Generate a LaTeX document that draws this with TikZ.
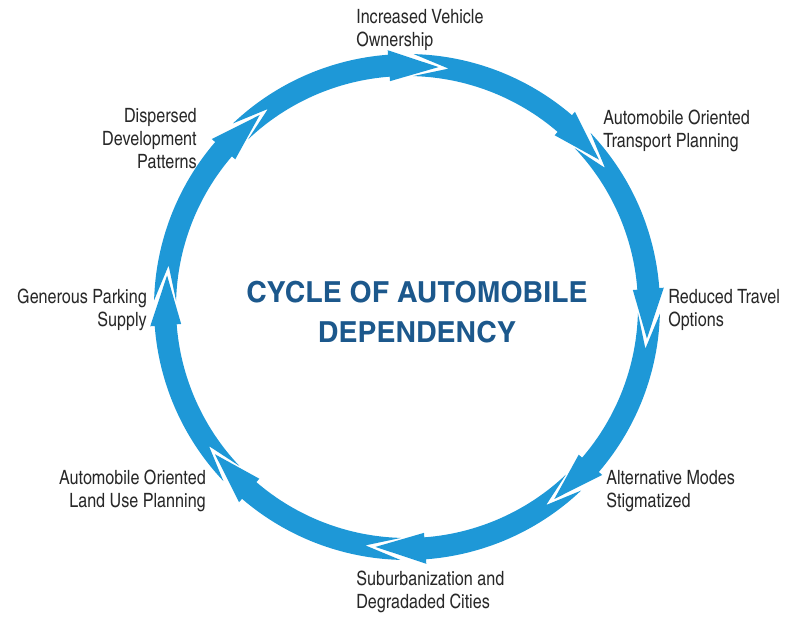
\documentclass[tikz,border=0pt]{standalone}
\usepackage{fontspec}
\setmainfont{texgyreheroscn}[Extension=.otf,UprightFont=*-regular,BoldFont=*-bold]
\newfontfamily\titlefont{texgyreheroscn}[Extension=.otf,UprightFont=*-bold,FakeStretch=1.2]
\definecolor{ringblue}{RGB}{30,152,215}
\definecolor{titleblue}{RGB}{28,88,140}
\definecolor{textgray}{RGB}{40,40,40}
\usetikzlibrary{positioning}

\begin{document}
\begin{tikzpicture}[x=0.025cm,y=0.025cm,
  steptext/.style={font=\fontsize{14}{16.3}\selectfont,text=textgray,inner sep=0pt},
  titletext/.style={font=\fontsize{20.6}{28.4}\selectfont\titlefont,text=titleblue,align=center,inner sep=0pt}]
  \useasboundingbox (-407,-311) rectangle (379,307);
  % ring: radius, half band, half head, head length, gap (angles in deg)
  \def\R{242}\def\w{11}\def\H{15.5}\def\L{11.8}\def\g{2.4}
  \pgfmathsetmacro\d{\L*\w/\H-\g}
  \foreach \k in {0,...,7}{
    \pgfmathsetmacro\b{82.5-45*\k}
    \pgfmathsetmacro\a{\b+45}
    \pgfmathsetmacro\ta{\a+\d}
    \pgfmathsetmacro\tb{\b+\L}
    \pgfmathsetmacro\na{\a-\g}
    \fill[ringblue] (\ta:\R+\w) arc[start angle=\ta,end angle=\tb,radius=\R+\w]
      -- (\tb:\R+\H) -- (\b:\R) -- (\tb:\R-\H) -- (\tb:\R-\w)
      arc[start angle=\tb,end angle=\ta,radius=\R-\w] -- (\na:\R) -- cycle;
  }
  % centre title
  \node[titletext] (title) at (10,-5.5) {CYCLE OF AUTOMOBILE\\DEPENDENCY};
  % steps of the cycle
  \node[steptext,anchor=west,align=left] (own) at (-51,277) {Increased Vehicle\\Ownership};
  \node[steptext,anchor=west,align=left] (tplan) at (196,176) {Automobile Oriented\\Transport Planning};
  \node[steptext,anchor=west,align=left] (travel) at (261,-3) {Reduced Travel\\Options};
  \node[steptext,anchor=west,align=left] (modes) at (199,-184) {Alternative Modes\\Stigmatized};
  \node[steptext,anchor=west,align=left] (suburb) at (-51,-285) {Suburbanization and\\Degradaded Cities};
  \node[steptext,anchor=east,align=right] (lplan) at (-201,-184) {Automobile Oriented\\Land Use Planning};
  \node[steptext,anchor=east,align=right] (parking) at (-260,-3) {Generous Parking\\Supply};
  \node[steptext,anchor=east,align=right] (sprawl) at (-210,168) {Dispersed\\Development\\Patterns};
\end{tikzpicture}
\end{document}
